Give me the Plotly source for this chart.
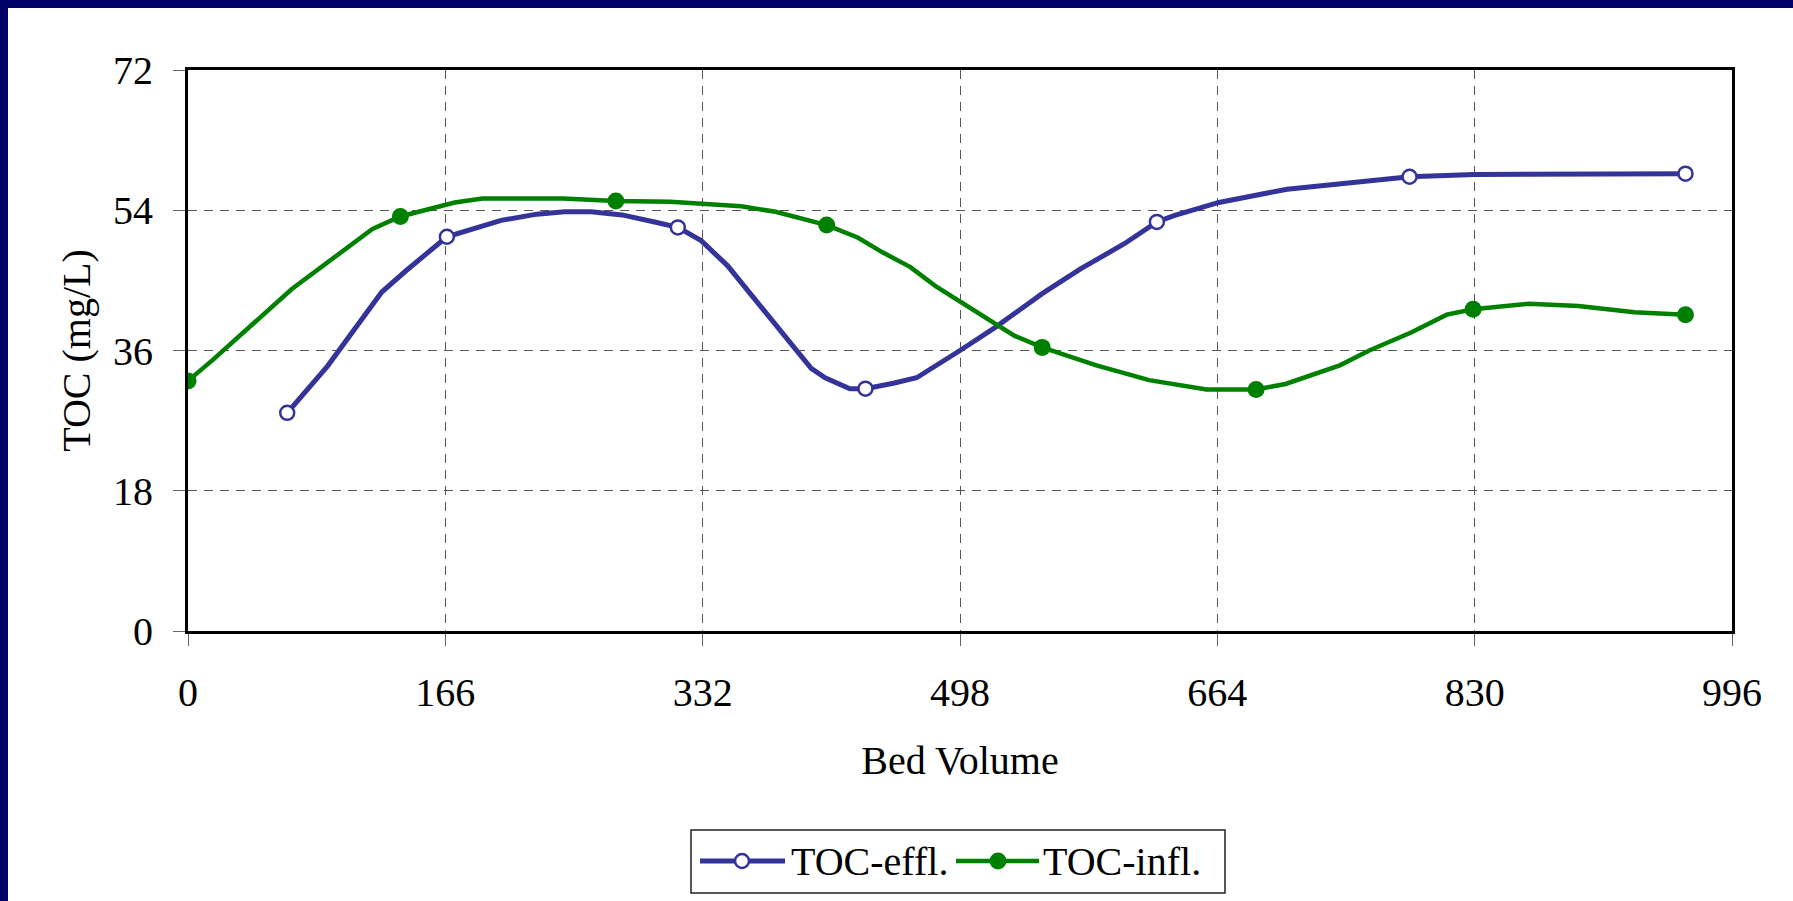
import plotly.graph_objects as go

# TOC of the column effluent and influent against bed volumes treated
effl_bv = [64, 90, 125, 141, 167, 202, 225, 243, 260, 280, 301, 316, 331, 348,
           402, 411, 427, 437, 455, 470, 498, 521, 551, 576, 604, 625, 636, 665,
           709, 788, 830, 966]
effl_toc = [28.0, 34.0, 43.5, 46.3, 50.6, 52.7, 53.5, 53.8, 53.8, 53.4, 52.5, 51.8,
            50.1, 46.9, 33.7, 32.5, 31.1, 31.1, 31.8, 32.5, 36.0, 39.0, 43.3, 46.5,
            49.7, 52.5, 53.3, 55.0, 56.7, 58.3, 58.6, 58.7]
effl_marked = [64, 167, 316, 437, 625, 788, 966]

infl_bv = [0, 16, 67, 119, 137, 172, 190, 242, 276, 311, 357, 379, 412, 432, 448,
           466, 482, 521, 533, 551, 586, 620, 657, 689, 708, 743, 762, 789, 812,
           829, 865, 897, 933, 966]
infl_toc = [32.1, 34.8, 43.9, 51.6, 53.2, 55.0, 55.5, 55.5, 55.2, 55.1, 54.5, 53.8,
            52.1, 50.5, 48.6, 46.7, 44.3, 39.4, 37.9, 36.4, 34.1, 32.2, 31.0, 31.0,
            31.7, 34.1, 36.0, 38.3, 40.6, 41.3, 42.0, 41.7, 40.9, 40.6]
infl_marked = [0, 137, 276, 412, 551, 689, 829, 966]

x_ticks = [0, 166, 332, 498, 664, 830, 996]
y_ticks = [0, 18, 36, 54, 72]

BLUE = "#333399"
GREEN = "#008000"
NAVY = "#000066"
FONT = "Liberation Serif, Times New Roman, serif"
FS = 40

W, H = 1793, 901
ML, MR, MT, MB = 188, 61, 70, 270
PW, PH = W - ML - MR, H - MT - MB


def fx(px):
    return (px - ML) / PW


def fy(py):
    return (H - MB - py) / PH


def subset(xs, ys, keep):
    pts = [(a, b) for a, b in zip(xs, ys) if a in keep]
    return [p[0] for p in pts], [p[1] for p in pts]


fig = go.Figure()

fig.add_trace(go.Scatter(x=effl_bv, y=effl_toc, mode="lines",
                         line=dict(color=BLUE, width=5), name="TOC-effl.",
                         showlegend=False))
ex, ey = subset(effl_bv, effl_toc, effl_marked)
fig.add_trace(go.Scatter(x=ex, y=ey, mode="markers", showlegend=False,
                         marker=dict(symbol="circle", size=14, color="white",
                                     line=dict(color=BLUE, width=2.5))))

fig.add_trace(go.Scatter(x=infl_bv, y=infl_toc, mode="lines",
                         line=dict(color=GREEN, width=4.5), name="TOC-infl.",
                         showlegend=False))
ix, iy = subset(infl_bv, infl_toc, infl_marked)
fig.add_trace(go.Scatter(x=ix, y=iy, mode="markers", showlegend=False,
                         marker=dict(symbol="circle", size=17, color=GREEN,
                                     line=dict(width=0))))

axis_common = dict(
    showline=True, linecolor="black", linewidth=3, mirror=True,
    ticks="outside", ticklen=12, tickwidth=1, tickcolor="#666666",
    showgrid=True, gridcolor="#555555", gridwidth=1, griddash="9px,7px",
    zeroline=False, tickfont=dict(family=FONT, size=FS, color="black"),
    ticklabelstandoff=12, automargin=False,
)

fig.update_layout(
    width=W, height=H,
    margin=dict(l=ML, r=MR, t=MT, b=MB, pad=0),
    paper_bgcolor="white", plot_bgcolor="white",
    showlegend=False,
    font=dict(family=FONT, size=FS, color="black"),
    xaxis=dict(range=[0, 996], tickvals=x_ticks,
               title=dict(text="Bed Volume", font=dict(family=FONT, size=FS),
                          standoff=32),
               **axis_common),
    yaxis=dict(range=[0, 72], tickvals=y_ticks,
               title=dict(text="TOC (mg/L)", font=dict(family=FONT, size=FS),
                          standoff=11),
               **axis_common),
)

shapes = [
    # frame bands along the top and left edges
    dict(type="rect", xref="paper", yref="paper", x0=fx(0), x1=fx(W), y0=fy(0), y1=fy(8),
         fillcolor=NAVY, line=dict(width=0), layer="above"),
    dict(type="rect", xref="paper", yref="paper", x0=fx(0), x1=fx(8), y0=fy(0), y1=fy(H),
         fillcolor=NAVY, line=dict(width=0), layer="above"),
    # legend box
    dict(type="rect", xref="paper", yref="paper", x0=fx(691), x1=fx(1225), y0=fy(830),
         y1=fy(893), fillcolor="white", line=dict(color="#222222", width=1.5),
         layer="above"),
    dict(type="line", xref="paper", yref="paper", x0=fx(700), x1=fx(785), y0=fy(861),
         y1=fy(861), line=dict(color=BLUE, width=5), layer="above"),
    dict(type="line", xref="paper", yref="paper", x0=fx(956), x1=fx(1039), y0=fy(861),
         y1=fy(861), line=dict(color=GREEN, width=4.5), layer="above"),
    dict(type="circle", xref="paper", yref="paper", xsizemode="pixel", ysizemode="pixel",
         xanchor=fx(742), yanchor=fy(861), x0=-7, x1=7, y0=-7, y1=7,
         fillcolor="white", line=dict(color=BLUE, width=2.5), layer="above"),
    dict(type="circle", xref="paper", yref="paper", xsizemode="pixel", ysizemode="pixel",
         xanchor=fx(998), yanchor=fy(861), x0=-8.5, x1=8.5, y0=-8.5, y1=8.5,
         fillcolor=GREEN, line=dict(width=0), layer="above"),
]
fig.update_layout(shapes=shapes)

fig.add_annotation(x=fx(789), y=fy(861), xref="paper", yref="paper", text="TOC-effl.",
                   showarrow=False, xanchor="left", yanchor="middle",
                   font=dict(family=FONT, size=FS, color="black"))
fig.add_annotation(x=fx(1041), y=fy(861), xref="paper", yref="paper", text="TOC-infl.",
                   showarrow=False, xanchor="left", yanchor="middle",
                   font=dict(family=FONT, size=FS, color="black"))

fig.write_html("out.html")
